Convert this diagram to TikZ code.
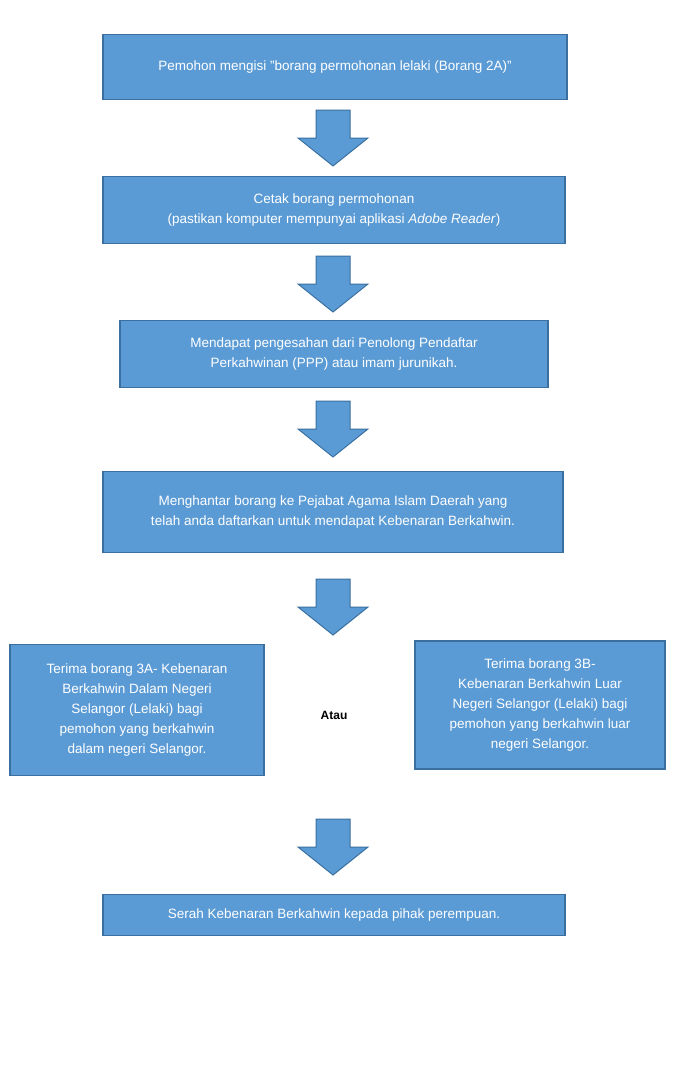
\documentclass[tikz,border=0pt]{standalone}
\usepackage{fontspec}
\setmainfont{Liberation Sans}
\definecolor{bfill}{HTML}{5B9BD5}
\definecolor{bdraw}{HTML}{3A6F9F}
\begin{document}
\begin{tikzpicture}[x=1pt,y=-1pt,
  box/.style={draw=bdraw,line width=1.5pt,fill=bfill,text=white,align=center,font=\fontsize{13.5}{20}\selectfont,inner sep=0pt},
  darrow/.pic={\draw[draw=bdraw,line width=1pt,fill=bfill] (-17,-28) -- (17,-28) -- (17,0) -- (35,0) -- (0,28) -- (-35,0) -- (-17,0) -- cycle;}]
\useasboundingbox (0,0) rectangle (674,1092);
\node[box,minimum width=464pt,minimum height=65pt] (b1) at (335,67) {Pemohon mengisi "borang permohonan lelaki (Borang 2A)"};
\node[box,minimum width=462pt,minimum height=67pt] (b2) at (334,210) {Cetak borang permohonan\\(pastikan komputer mempunyai aplikasi \textit{Adobe Reader})};
\node[box,minimum width=428pt,minimum height=67pt] (b3) at (334,354) {Mendapat pengesahan dari Penolong Pendaftar\\Perkahwinan (PPP) atau imam jurunikah.};
\node[box,minimum width=460pt,minimum height=81pt] (b4) at (333,512) {Menghantar borang ke Pejabat Agama Islam Daerah yang\\telah anda daftarkan untuk mendapat Kebenaran Berkahwin.};
\node[box,minimum width=254pt,minimum height=131pt] (b5) at (137,710) {Terima borang 3A- Kebenaran\\Berkahwin Dalam Negeri\\Selangor (Lelaki) bagi\\pemohon yang berkahwin\\dalam negeri Selangor.};
\node[box,minimum width=250pt,minimum height=128pt] (b6) at (540,705) {Terima borang 3B-\\Kebenaran Berkahwin Luar\\Negeri Selangor (Lelaki) bagi\\pemohon yang berkahwin luar\\negeri Selangor.};
\node[font=\bfseries\fontsize{12}{14}\selectfont] (atau) at (334,715) {Atau};
\node[box,minimum width=462pt,minimum height=41pt] (b7) at (334,915) {Serah Kebenaran Berkahwin kepada pihak perempuan.};
\pic at (333,138) {darrow};
\pic at (333,284) {darrow};
\pic at (333,429) {darrow};
\pic at (333,607) {darrow};
\pic at (333,847) {darrow};
\end{tikzpicture}
\end{document}
